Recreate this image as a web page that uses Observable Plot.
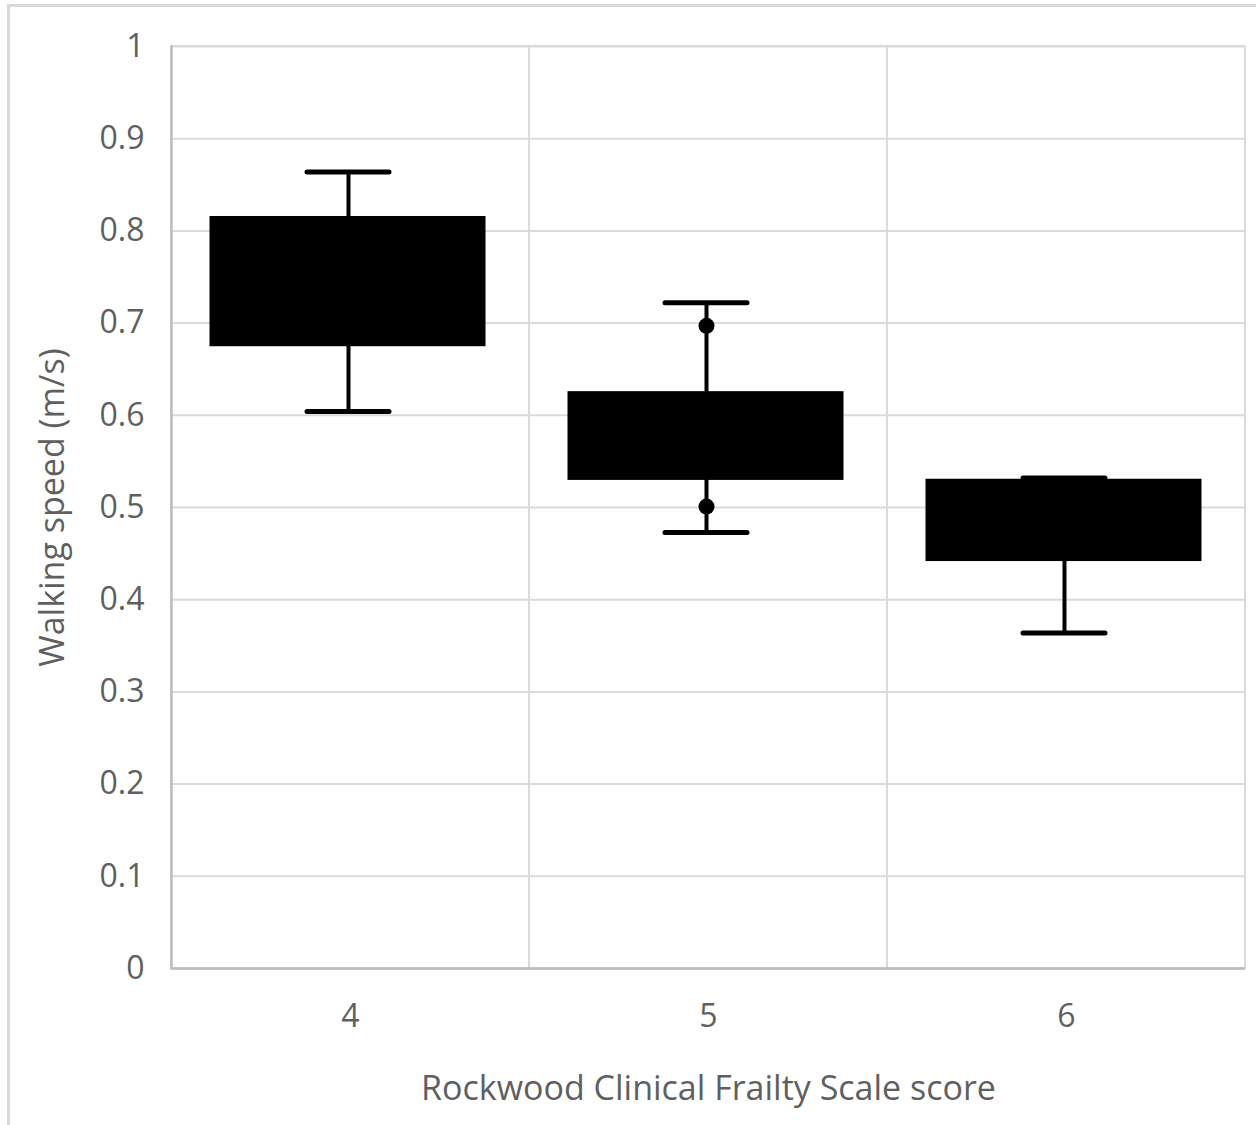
<!DOCTYPE html>
<html>
<head>
<meta charset="utf-8">
<script src="https://cdn.jsdelivr.net/npm/d3@7"></script>
<script src="https://cdn.jsdelivr.net/npm/@observablehq/plot@0.6"></script>
<style>
  html, body { margin: 0; padding: 0; background: #fff; }
  #wrap { position: relative; width: 1256px; height: 1125px; overflow: hidden; }
  #border { position: absolute; left: 7px; top: 4px; width: 1300px; height: 1200px;
            border-left: 3px solid #d9d9d9; border-top: 3px solid #d9d9d9; }
  #chart { position: absolute; left: 0; top: 0; }
</style>
</head>
<body>
<div id="wrap"><div id="border"></div><div id="chart"></div></div>
<script>
// Data
const categories = ["4", "5", "6"];
const whiskerLow  = [0.604, 0.473, 0.364];
const boxLow      = [0.676, 0.531, 0.443];
const boxHigh     = [0.814, 0.624, 0.529];
const whiskerHigh = [0.864, 0.722, 0.532];
const pointCategory = ["5", "5"];
const pointValue    = [0.697, 0.501];
const yTicks = [0, 0.1, 0.2, 0.3, 0.4, 0.5, 0.6, 0.7, 0.8, 0.9, 1];
const xTitle = "Rockwood Clinical Frailty Scale score";
const yTitle = "Walking speed (m/s)";

const boxes = categories.map((c, i) => ({
  cat: c, lo: whiskerLow[i], q1: boxLow[i], q3: boxHigh[i], hi: whiskerHigh[i]
}));
const points = pointCategory.map((c, i) => ({cat: c, v: pointValue[i]}));

const font = "'Open Sans', Lato, sans-serif";
const textColor = "#5f5f5f";

const chart = Plot.plot({
  width: 1256,
  height: 1125,
  marginLeft: 171,
  marginRight: 11,
  marginTop: 46,
  marginBottom: 157,
  style: {fontFamily: font, fontSize: "32px", color: textColor, background: "transparent"},
  x: {domain: categories, padding: 0},
  y: {domain: [0, 1]},
  marks: [
    Plot.gridY(yTicks, {stroke: "#dadada", strokeOpacity: 1, strokeWidth: 2}),
    Plot.barY(categories, {x: d => d, y1: 0, y2: 1, fill: "none", stroke: "#dadada", strokeWidth: 2}),
    Plot.ruleY([0], {stroke: "#bdbdbd", strokeWidth: 2.5}),
    Plot.frame({anchor: "left", stroke: "#bdbdbd", strokeWidth: 2.5}),
    Plot.axisY(yTicks, {tickSize: 0, tickPadding: 27, fontSize: 32, fill: textColor,
      tickFormat: d => String(d), label: null}),
    Plot.axisX({tickSize: 0, tickPadding: 36, fontSize: 32, fill: textColor, label: null}),
    Plot.text([yTitle], {frameAnchor: "left", dx: -118, rotate: -90, fontSize: 34, fill: textColor, textAnchor: "middle"}),
    Plot.text([xTitle], {frameAnchor: "bottom", dy: 131, fontSize: 34, fill: textColor, textAnchor: "middle"}),
    // whiskers
    Plot.ruleX(boxes, {x: "cat", y1: "lo", y2: "hi", dx: -2, stroke: "black", strokeWidth: 4}),
    // whisker caps
    Plot.tickY(boxes, {x: "cat", y: "lo", dx: -2, stroke: "black", strokeWidth: 5, inset: 138, strokeLinecap: "round"}),
    Plot.tickY(boxes, {x: "cat", y: "hi", dx: -2, stroke: "black", strokeWidth: 5, inset: 138, strokeLinecap: "round"}),
    // boxes
    Plot.barY(boxes, {x: "cat", y1: "q1", y2: "q3", fill: "black", stroke: "black", strokeWidth: 3, insetLeft: 40, insetRight: 45}),
    // points
    Plot.dot(points, {x: "cat", y: "v", dx: -2, r: 8, fill: "black"})
  ]
});
document.getElementById("chart").appendChild(chart);
</script>
</body>
</html>
